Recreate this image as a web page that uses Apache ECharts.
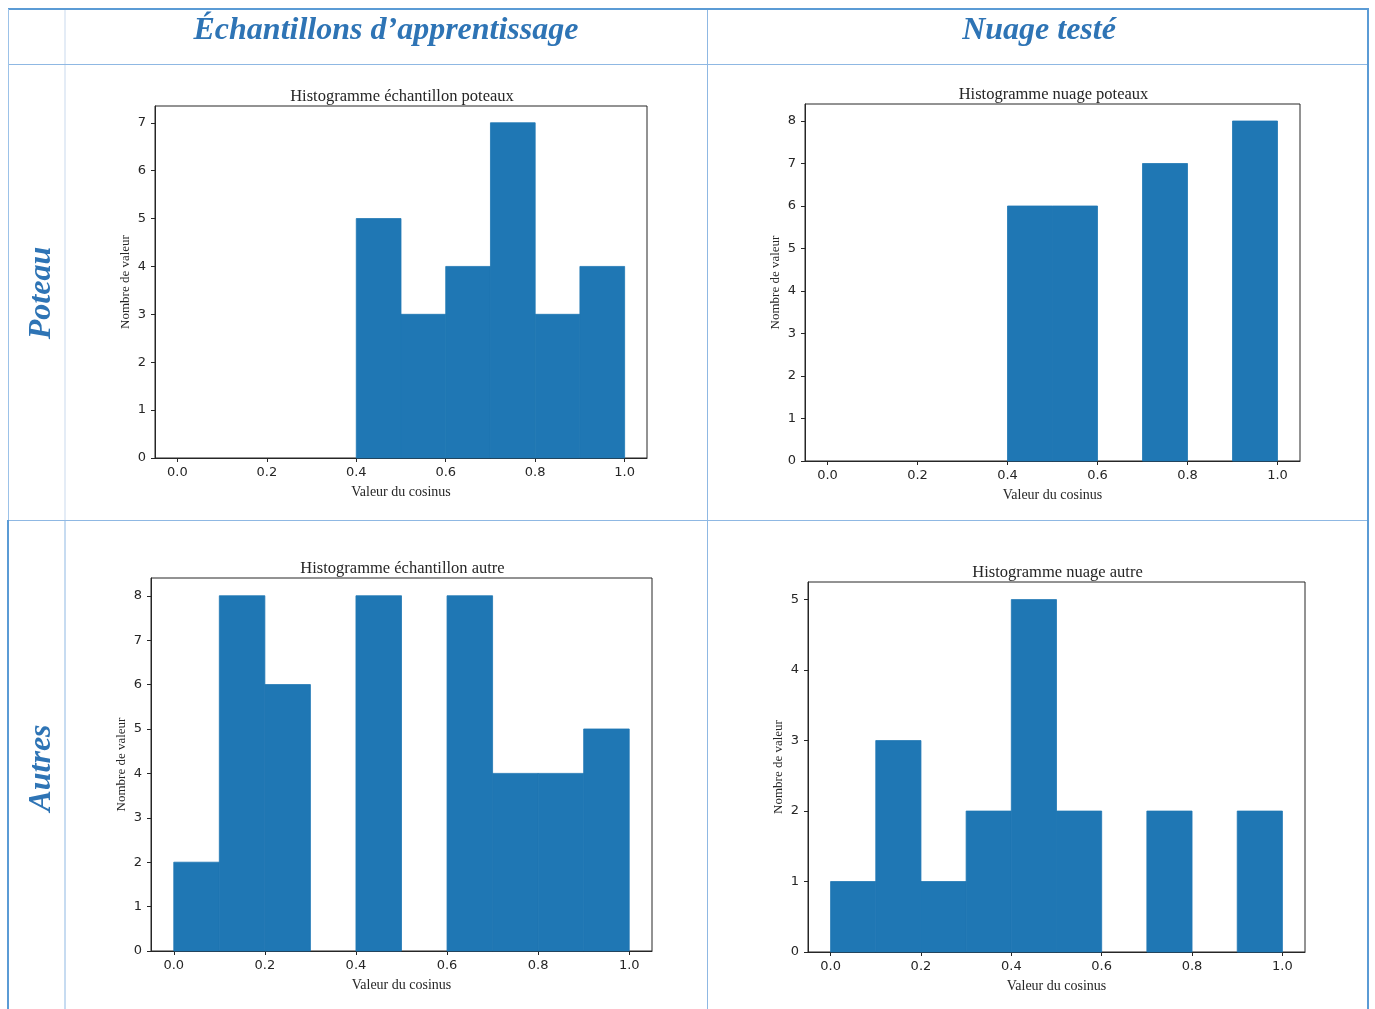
<!DOCTYPE html>
<html>
<head>
<meta charset="utf-8">
<script src="https://cdn.jsdelivr.net/npm/echarts@6/dist/echarts.min.js"></script>
<style>
  html, body { margin: 0; padding: 0; background: #ffffff; }
  #chart { width: 1375px; height: 1009px; }
</style>
</head>
<body>
<div id="chart"></div>
<script>
// Bin edges of the cosine histograms (10 bins of width 0.1)
const binEdges = [0.0, 0.1, 0.2, 0.3, 0.4, 0.5, 0.6, 0.7, 0.8, 0.9, 1.0];

// Counts per bin
const echantillonPoteaux = [0, 0, 0, 0, 5, 3, 4, 7, 3, 4];
const nuagePoteaux       = [0, 0, 0, 0, 6, 6, 0, 7, 0, 8];
const echantillonAutre   = [2, 8, 6, 0, 8, 0, 8, 4, 4, 5];
const nuageAutre         = [1, 3, 1, 2, 5, 2, 0, 2, 0, 2];

// Tick labels
const xTicks = [0.0, 0.2, 0.4, 0.6, 0.8, 1.0];
const yTicksEchPoteaux = [0, 1, 2, 3, 4, 5, 6, 7];
const yTicksNuaPoteaux = [0, 1, 2, 3, 4, 5, 6, 7, 8];
const yTicksEchAutre   = [0, 1, 2, 3, 4, 5, 6, 7, 8];
const yTicksNuaAutre   = [0, 1, 2, 3, 4, 5];

// Texts
const columnHeaders = ["Échantillons d’apprentissage", "Nuage testé"];
const rowHeaders = ["Poteau", "Autres"];
const titles = [
  "Histogramme échantillon poteaux",
  "Histogramme nuage poteaux",
  "Histogramme échantillon autre",
  "Histogramme nuage autre"
];
const xName = "Valeur du cosinus";
const yName = "Nombre de valeur";

const panels = [
  { counts: echantillonPoteaux, yTicks: yTicksEchPoteaux, box: { left: 155, top: 106, width: 492, height: 352 } },
  { counts: nuagePoteaux,       yTicks: yTicksNuaPoteaux, box: { left: 805, top: 104, width: 495, height: 357 } },
  { counts: echantillonAutre,   yTicks: yTicksEchAutre,   box: { left: 151, top: 578, width: 501, height: 373 } },
  { counts: nuageAutre,         yTicks: yTicksNuaAutre,   box: { left: 808, top: 582, width: 497, height: 370 } }
];

const BAR = '#1f77b4';
const INK = '#262626';
const SERIF = '"Liberation Serif", "DejaVu Serif", serif';
const SANS = '"DejaVu Sans", sans-serif';
const HEAD = '#2e74b5';

const grids = [], xAxes = [], yAxes = [], series = [], titleList = [];

panels.forEach((p, i) => {
  const maxCount = Math.max.apply(null, p.counts);
  grids.push(Object.assign({
    show: true, borderColor: INK, borderWidth: 1, backgroundColor: '#fff', containLabel: false
  }, p.box));
  xAxes.push({
    type: 'value', gridIndex: i, min: -0.05, max: 1.05,
    name: xName, nameLocation: 'middle', nameGap: 27,
    nameTextStyle: { fontFamily: SERIF, fontSize: 14, color: INK },
    axisLine: { show: true, onZero: false, lineStyle: { color: INK, width: 1 } },
    axisTick: { show: true, length: 4, lineStyle: { color: INK }, customValues: xTicks },
    axisLabel: { fontFamily: SANS, fontSize: 13, color: INK, margin: 8,
      customValues: xTicks, formatter: v => v.toFixed(1) },
    splitLine: { show: false }
  });
  yAxes.push({
    type: 'value', gridIndex: i, min: 0, max: maxCount * 1.05,
    name: yName, nameLocation: 'middle', nameGap: 23,
    nameTextStyle: { fontFamily: SERIF, fontSize: 13, color: INK },
    axisLine: { show: true, onZero: false, lineStyle: { color: INK, width: 1 } },
    axisTick: { show: true, length: 4, lineStyle: { color: INK }, customValues: p.yTicks },
    axisLabel: { fontFamily: SANS, fontSize: 13, color: INK, margin: 9, customValues: p.yTicks },
    splitLine: { show: false }
  });
  const data = p.counts.map((c, k) => [binEdges[k], binEdges[k + 1], c]);
  series.push({
    type: 'custom', xAxisIndex: i, yAxisIndex: i, data: data, z: 1,
    renderItem: (params, api) => {
      const count = api.value(2);
      if (!count) return null;
      const a = api.coord([api.value(0), count]);
      const b = api.coord([api.value(1), 0]);
      return {
        type: 'rect',
        shape: { x: a[0], y: a[1], width: b[0] - a[0], height: b[1] - a[1] },
        style: { fill: BAR, stroke: BAR, lineWidth: 0.8 }
      };
    }
  });
  titleList.push({
    text: titles[i],
    left: p.box.left + p.box.width / 2 - 4, top: p.box.top - 23, textAlign: 'center',
    textStyle: { fontFamily: SERIF, fontSize: 16.5, fontWeight: 'normal', color: INK }
  });
});

// Table frame
const LINE = '#8fb8e3';
const LIGHT = '#dbe6f3';
const OUTER = '#5b9bd5';
const HEAD_FONT = 'italic bold 32px ' + SERIF;
const graphic = [
  { type: 'line', shape: { x1: 65, y1: 9, x2: 65, y2: 520 }, style: { stroke: LIGHT, lineWidth: 1.5 } },
  { type: 'line', shape: { x1: 65, y1: 520, x2: 65, y2: 1009 }, style: { stroke: LINE, lineWidth: 1 } },
  { type: 'line', shape: { x1: 707.5, y1: 9, x2: 707.5, y2: 1009 }, style: { stroke: LINE, lineWidth: 1 } },
  { type: 'line', shape: { x1: 8, y1: 64.5, x2: 1368, y2: 64.5 }, style: { stroke: LINE, lineWidth: 1 } },
  { type: 'line', shape: { x1: 8, y1: 520.5, x2: 1368, y2: 520.5 }, style: { stroke: LINE, lineWidth: 1 } },
  { type: 'line', shape: { x1: 8, y1: 9, x2: 1369, y2: 9 }, style: { stroke: OUTER, lineWidth: 2 } },
  { type: 'line', shape: { x1: 1368, y1: 9, x2: 1368, y2: 1009 }, style: { stroke: OUTER, lineWidth: 2 } },
  { type: 'line', shape: { x1: 8.5, y1: 9, x2: 8.5, y2: 520 }, style: { stroke: '#9cc2e8', lineWidth: 1 } },
  { type: 'line', shape: { x1: 8, y1: 520, x2: 8, y2: 1009 }, style: { stroke: OUTER, lineWidth: 2 } },
  { type: 'text', x: 386, y: 31, style: { text: columnHeaders[0], fill: HEAD,
      font: HEAD_FONT, textAlign: 'center', textVerticalAlign: 'middle' } },
  { type: 'text', x: 1039, y: 31, style: { text: columnHeaders[1], fill: HEAD,
      font: HEAD_FONT, textAlign: 'center', textVerticalAlign: 'middle' } },
  { type: 'text', x: 42, y: 293, rotation: Math.PI / 2, style: { text: rowHeaders[0], fill: HEAD,
      font: HEAD_FONT, textAlign: 'center', textVerticalAlign: 'middle' } },
  { type: 'text', x: 42, y: 768, rotation: Math.PI / 2, style: { text: rowHeaders[1], fill: HEAD,
      font: HEAD_FONT, textAlign: 'center', textVerticalAlign: 'middle' } }
];

const chart = echarts.init(document.getElementById('chart'));
chart.setOption({
  animation: false,
  backgroundColor: '#ffffff',
  title: titleList,
  grid: grids,
  xAxis: xAxes,
  yAxis: yAxes,
  series: series,
  graphic: graphic
});
</script>
</body>
</html>
